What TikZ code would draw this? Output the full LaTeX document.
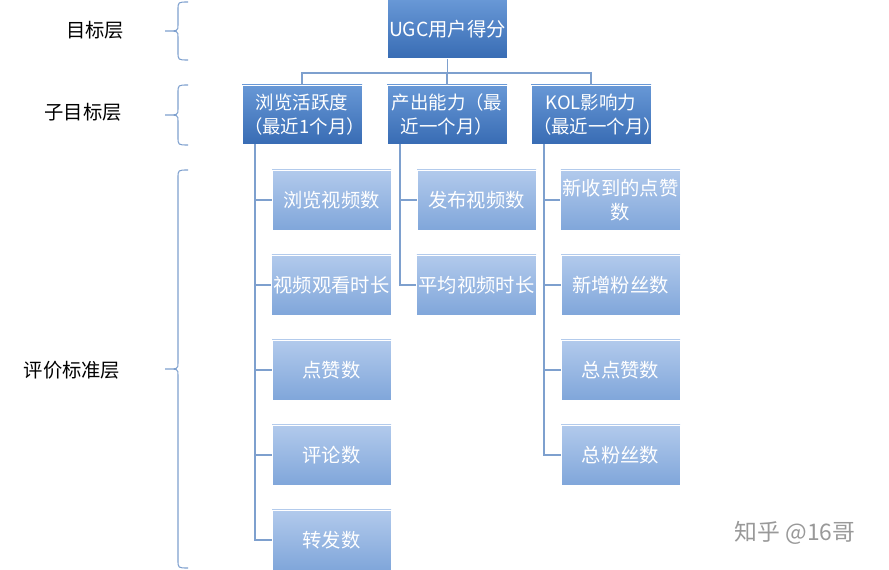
\documentclass[tikz,border=0pt]{standalone}
\usepackage{fontspec}
\setmainfont{Noto Sans CJK SC}
\usetikzlibrary{positioning}
\definecolor{topA}{RGB}{104,152,214}
\definecolor{topB}{RGB}{56,108,180}
\definecolor{leafA}{RGB}{178,202,236}
\definecolor{leafB}{RGB}{128,166,218}
\definecolor{lineC}{RGB}{126,160,206}
\begin{document}
\begin{tikzpicture}[x=0.02cm,y=-0.02cm,
  topbox/.style={draw=white,top color=topA,bottom color=topB,text=white,
    minimum width=115*0.02cm,minimum height=59*0.02cm,inner sep=1pt,align=center,font=\fontsize{11}{14}\selectfont},
  subbox/.style={topbox,minimum width=120*0.02cm,text width=116*0.02cm,inner sep=0pt,font=\fontsize{10.5}{14}\selectfont},
  leafbox/.style={draw=white,top color=leafA,bottom color=leafB,text=white,
    minimum width=119*0.02cm,minimum height=60*0.02cm,inner sep=1pt,align=center,font=\fontsize{11}{14}\selectfont},
  layer/.style={font=\fontsize{11}{14}\selectfont},
  conn/.style={draw=lineC,line width=0.8pt},
  brace/.style={draw=lineC,line width=0.6pt}]
  \useasboundingbox (0,0) rectangle (889,570);
  % root and sub goals
  \node [topbox] (root) at (447.5,29) {UGC用户得分};
  \node [subbox] (s1) at (302,114.5) {浏览活跃度\\（最近1个月）};
  \node [subbox] (s2) at (447,114.5) {产出能力（最\\近一个月）};
  \node [subbox] (s3) at (591,114.5) {KOL影响力\\（最近一个月）};
  % leaves
  \foreach \t [count=\i] in {浏览视频数,视频观看时长,点赞数,评论数,转发数}
    \node [leafbox] (a\i) at (331.5,115+85*\i) {\t};
  \foreach \t [count=\i] in {发布视频数,平均视频时长}
    \node [leafbox] (b\i) at (476.5,115+85*\i) {\t};
  \foreach \t [count=\i] in {{新收到的点赞\\数},新增粉丝数,总点赞数,总粉丝数}
    \node [leafbox] (c\i) at (620.5,115+85*\i) {\t};
  % connectors
  \coordinate (j) at (447.5,73);
  \draw [conn] (root.south) -- (j);
  \foreach \s in {s1,s2,s3}
    \draw [conn] (\s.north) |- (j);
  \foreach \i in {1,...,5}
    \draw [conn] (s1.south) ++(-47,0) |- (a\i.west);
  \foreach \i in {1,2}
    \draw [conn] (s2.south) ++(-47,0) |- (b\i.west);
  \foreach \i in {1,...,4}
    \draw [conn] (s3.south) ++(-47,0) |- (c\i.west);
  % layers
  \node [layer] (l1) at (95,30) {目标层};
  \node [layer] (l2) at (83,112) {子目标层};
  \node [layer] (l3) at (72,370) {评价标准层};
  \foreach \a/\b in {2/60,85/145,170/568}
    \draw [brace] (188,\a) .. controls (178,\a) .. (178,\a+8) -- (178,\a/2+\b/2-6)
      .. controls (178,\a/2+\b/2) .. (165,\a/2+\b/2) .. controls (178,\a/2+\b/2) .. (178,\a/2+\b/2+6)
      -- (178,\b-8) .. controls (178,\b) .. (188,\b);
  \node [text=gray!80,font=\fontsize{13}{15}\selectfont] (wm) at (795,533) {知乎 @16哥};
\end{tikzpicture}
\end{document}
